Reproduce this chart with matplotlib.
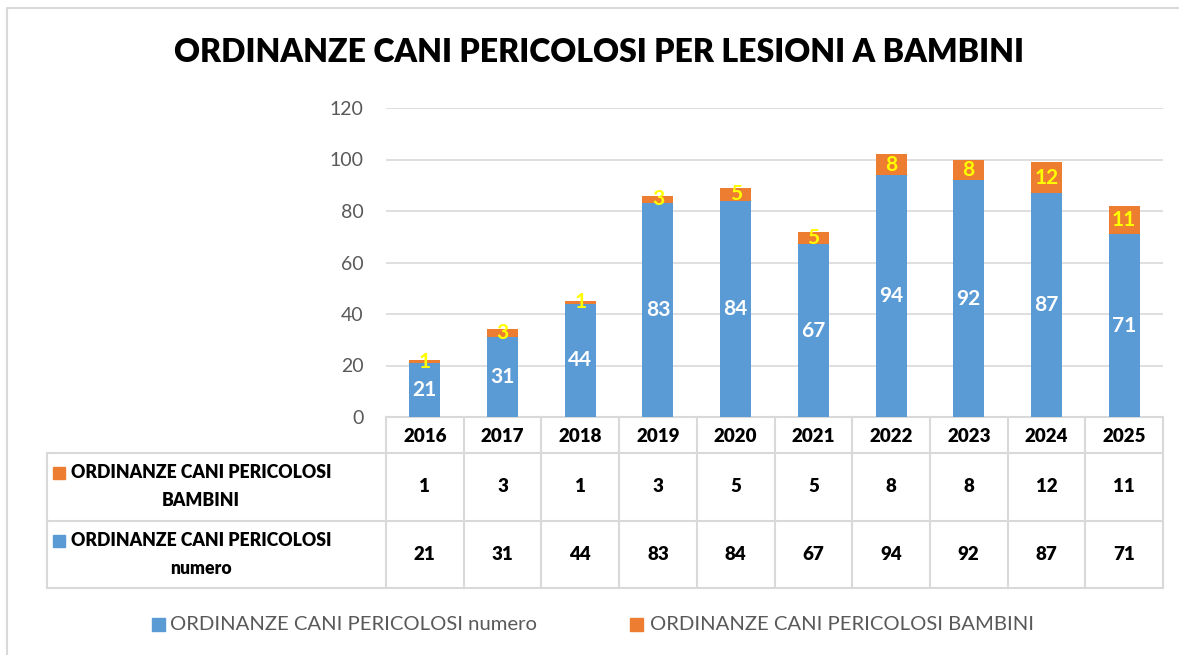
import matplotlib.pyplot as plt
from matplotlib.patches import Rectangle

years = ["2016", "2017", "2018", "2019", "2020", "2021", "2022", "2023", "2024", "2025"]
numero = [21, 31, 44, 83, 84, 67, 94, 92, 87, 71]
bambini = [1, 3, 1, 3, 5, 5, 8, 8, 12, 11]
yticks = [0, 20, 40, 60, 80, 100, 120]

label_numero = "ORDINANZE CANI PERICOLOSI numero"
label_bambini = "ORDINANZE CANI PERICOLOSI BAMBINI"
title = "ORDINANZE CANI PERICOLOSI PER LESIONI A BAMBINI"

blue = "#5B9BD5"
orange = "#ED7D31"
grid_col = "#D9D9D9"
gray_txt = "#595959"

plt.rcParams["font.family"] = ["Lato", "DejaVu Sans"]

W, H = 1179, 655
fig = plt.figure(figsize=(W / 100, H / 100), dpi=100)

# layout in pixels
plot_l, plot_r = 386, 1163
plot_top, plot_bot = 108, 417
tab_l = 47
row_y = [417, 453, 521, 588]

# overlay axes in pixel coordinates for frame, table and legend
lay = fig.add_axes([0, 0, 1, 1])
lay.set_xlim(0, W)
lay.set_ylim(H, 0)
lay.axis("off")

ax = fig.add_axes([plot_l / W, (H - plot_bot) / H, (plot_r - plot_l) / W, (plot_bot - plot_top) / H])
x = list(range(len(years)))
ax.bar(x, numero, width=0.4, color=blue, zorder=3)
ax.bar(x, bambini, width=0.4, bottom=numero, color=orange, zorder=3)
ax.set_xlim(-0.5, len(years) - 0.5)
ax.set_ylim(0, 120)
ax.set_yticks(yticks)
ax.set_xticks([])
ax.grid(axis="y", color=grid_col, linewidth=1.2, zorder=0)
for s in ax.spines.values():
    s.set_visible(False)
ax.tick_params(axis="y", length=0, pad=16, labelsize=14, labelcolor=gray_txt)
ax.patch.set_alpha(0)

for i in x:
    ax.text(i, numero[i] / 2, str(numero[i]), ha="center", va="center",
            color="white", fontsize=15, fontweight="bold", zorder=4)
    ax.text(i, numero[i] + bambini[i] / 2, str(bambini[i]), ha="center", va="center",
            color="#FFFF00", fontsize=15, fontweight="bold", zorder=4)

# frame
lay.plot([7, 7, W], [H, 8, 8], color=grid_col, linewidth=1.5)

# title
lay.text(599, 52, title, ha="center", va="center", fontsize=23, fontweight="heavy", color="black")

# data table
col_w = (plot_r - plot_l) / len(years)
lc = dict(color=grid_col, linewidth=1.5)
lay.plot([plot_l, plot_r], [row_y[0], row_y[0]], **lc)
for yy in row_y[1:]:
    lay.plot([tab_l, plot_r], [yy, yy], **lc)
lay.plot([tab_l, tab_l], [row_y[1], row_y[3]], **lc)
for k in range(len(years) + 1):
    xx = plot_l + k * col_w
    lay.plot([xx, xx], [row_y[0], row_y[3]], **lc)

rows = [(orange, "BAMBINI", bambini), (blue, "numero", numero)]
for i, yr in enumerate(years):
    cx = plot_l + (i + 0.5) * col_w
    lay.text(cx, (row_y[0] + row_y[1]) / 2 + 1, yr, ha="center", va="center",
             fontsize=13.5, fontweight="heavy")
    for r, (c, nm, vals) in enumerate(rows):
        cy = (row_y[r + 1] + row_y[r + 2]) / 2
        lay.text(cx, cy, str(vals[i]), ha="center", va="center", fontsize=13.5, fontweight="heavy")

for r, (c, nm, vals) in enumerate(rows):
    top = row_y[r + 1]
    lay.add_patch(Rectangle((53, top + 14), 12, 12, color=c))
    lay.text(201, top + 20, "ORDINANZE CANI PERICOLOSI", ha="center", va="center",
             fontsize=12.7, fontweight="heavy")
    lay.text(201, top + 48, nm, ha="center", va="center", fontsize=12.7, fontweight="heavy")

# legend
lay.add_patch(Rectangle((152, 618), 13, 13, color=blue))
lay.text(170, 625, label_numero, ha="left", va="center", fontsize=14.6, color=gray_txt)
lay.add_patch(Rectangle((630, 618), 13, 13, color=orange))
lay.text(650, 625, label_bambini, ha="left", va="center", fontsize=14.6, color=gray_txt)

fig.savefig("out.png", dpi=100)
